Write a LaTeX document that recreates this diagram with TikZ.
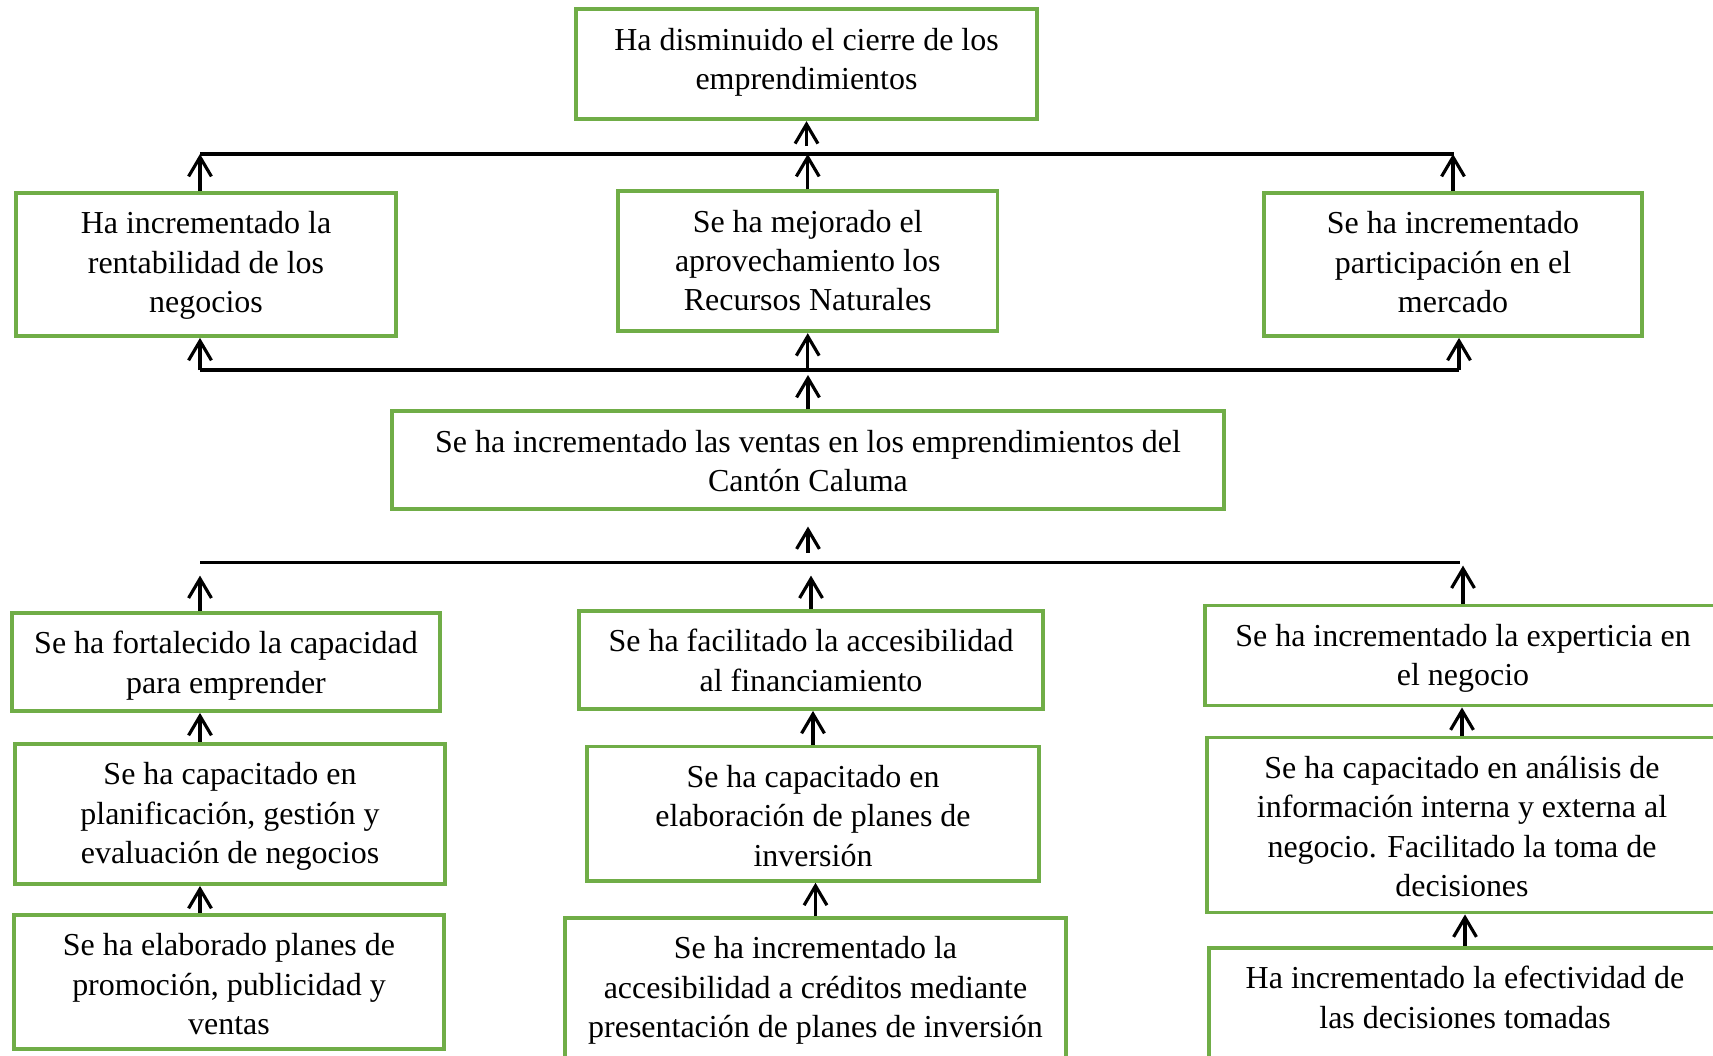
\documentclass[tikz,border=0pt]{standalone}
\usepackage{fontspec}
\setmainfont{Liberation Serif}
\usetikzlibrary{arrows.meta}
\definecolor{boxgreen}{RGB}{112,173,71}
\tikzset{
	box/.style={draw=boxgreen,line width=2.2pt,align=center,inner sep=0pt,anchor=north,font=\fontsize{18.2}{22.4}\selectfont},
	two/.style={box,text height=45.7pt},
	three/.style={box,text height=68.1pt},
	four/.style={box,text height=90.5pt},
	bus/.style={line width=1.8pt},
	arr/.style={line width=1.8pt,-{Straight Barb[length=11pt,width=13pt]}}
}
\begin{document}
\begin{tikzpicture}[x=0.02cm,y=-0.02cm]
		\useasboundingbox (0,0) rectangle (1713,1055);
		\node[two,minimum width=9.22cm,text depth=16.9pt] (fin) at (806.5,7.3) {Ha disminuido el cierre de los\\emprendimientos};
		\node[three,minimum width=7.6cm,text depth=13.3pt] (rent) at (206,191) {Ha incrementado la\\rentabilidad de los\\negocios};
		\node[three,minimum width=7.59cm,text depth=11.6pt] (recur) at (807.75,189.3) {Se ha mejorado el\\aprovechamiento los\\Recursos Naturales};
		\node[three,minimum width=7.57cm,text depth=13.3pt] (merc) at (1453,191) {Se ha incrementado\\participación en el\\mercado};
		\node[two,minimum width=16.64cm,text depth=9.7pt] (ventas) at (808,409.3) {Se ha incrementado las ventas en los emprendimientos del\\Cantón Caluma};
		\node[two,minimum width=8.56cm,text depth=10.1pt] (capac) at (226,611) {Se ha fortalecido la capacidad\\para emprender};
		\node[two,minimum width=9.28cm,text depth=10.1pt] (financ) at (811,609) {Se ha facilitado la accesibilidad\\al financiamiento};
		\node[two,minimum width=10.32cm,text depth=11.2pt] (exper) at (1463,603.6) {Se ha incrementado la experticia en\\el negocio};
		\node[three,minimum width=8.6cm,text depth=11.6pt] (gest) at (230,742) {Se ha capacitado en\\planificación, gestión y\\evaluación de negocios};
		\node[three,minimum width=9.04cm,text depth=8.4pt] (inver) at (813,744.5) {Se ha capacitado en\\elaboración de planes de\\inversión};
		\node[four,minimum width=10.22cm,text depth=9.1pt] (anal) at (1462,735.6) {Se ha capacitado en análisis de\\información interna y externa al\\negocio. Facilitado la toma de\\decisiones};
		\node[three,minimum width=8.6cm,text depth=8.2pt] (promo) at (229,913) {Se ha elaborado planes de\\promoción, publicidad y\\ventas};
		\node[three,minimum width=10.02cm,text depth=20.1pt] (cred) at (815.5,916) {Se ha incrementado la\\accesibilidad a créditos mediante\\presentación de planes de inversión};
		\node[two,minimum width=10.24cm,text depth=28.3pt] (decis) at (1465,945.8) {Ha incrementado la efectividad de\\las decisiones tomadas};
		\coordinate (cL) at (200,0);
		\coordinate (busA) at (200,154);
		\coordinate (busAe) at (1454,154);
		\coordinate (busB) at (200,370);
		\coordinate (busBe) at (1459,370);
		\coordinate (busC) at (200,562.6);
		\coordinate (busCe) at (1460,562.6);
		\draw[bus](busA)--(busAe);
		\draw[bus](busB)--(busBe);
		\draw[bus](busC)--(busCe);
		\draw[arr,shorten <=0.16cm](fin.south|-busA)--(fin.south);
		\draw[arr](cL|-rent.north)--(busA);
		\foreach \n in{recur,merc}
			\draw[arr](\n.north)--(\n.north|-busA);
		\draw[arr](busB)--(cL|-rent.south);
		\draw[arr](recur.south|-busB)--(recur.south);
		\draw[arr](busBe)--(busBe|-merc.south);
		\draw[arr,shorten >=0.1cm](ventas.north)--(ventas.north|-busB);
		\draw[arr,shorten <=0.2cm,shorten >=0.32cm](ventas.south|-busC)--(ventas.south);
		\draw[arr,shorten >=0.26cm](cL|-capac.north)--(busC);
		\draw[arr,shorten >=0.26cm](financ.north)--(financ.north|-busC);
		\draw[arr,shorten >=0.06cm](exper.north)--(exper.north|-busC);
		\foreach \a/\b in{gest/capac,promo/gest}
			\draw[arr](cL|-\a.north)--(cL|-\b.south);
		\foreach \a/\b in{inver/financ,cred/inver,anal/exper,decis/anal}
			\draw[arr](\a.north)--(\b.south-|\a.north);
	\end{tikzpicture}
\end{document}
